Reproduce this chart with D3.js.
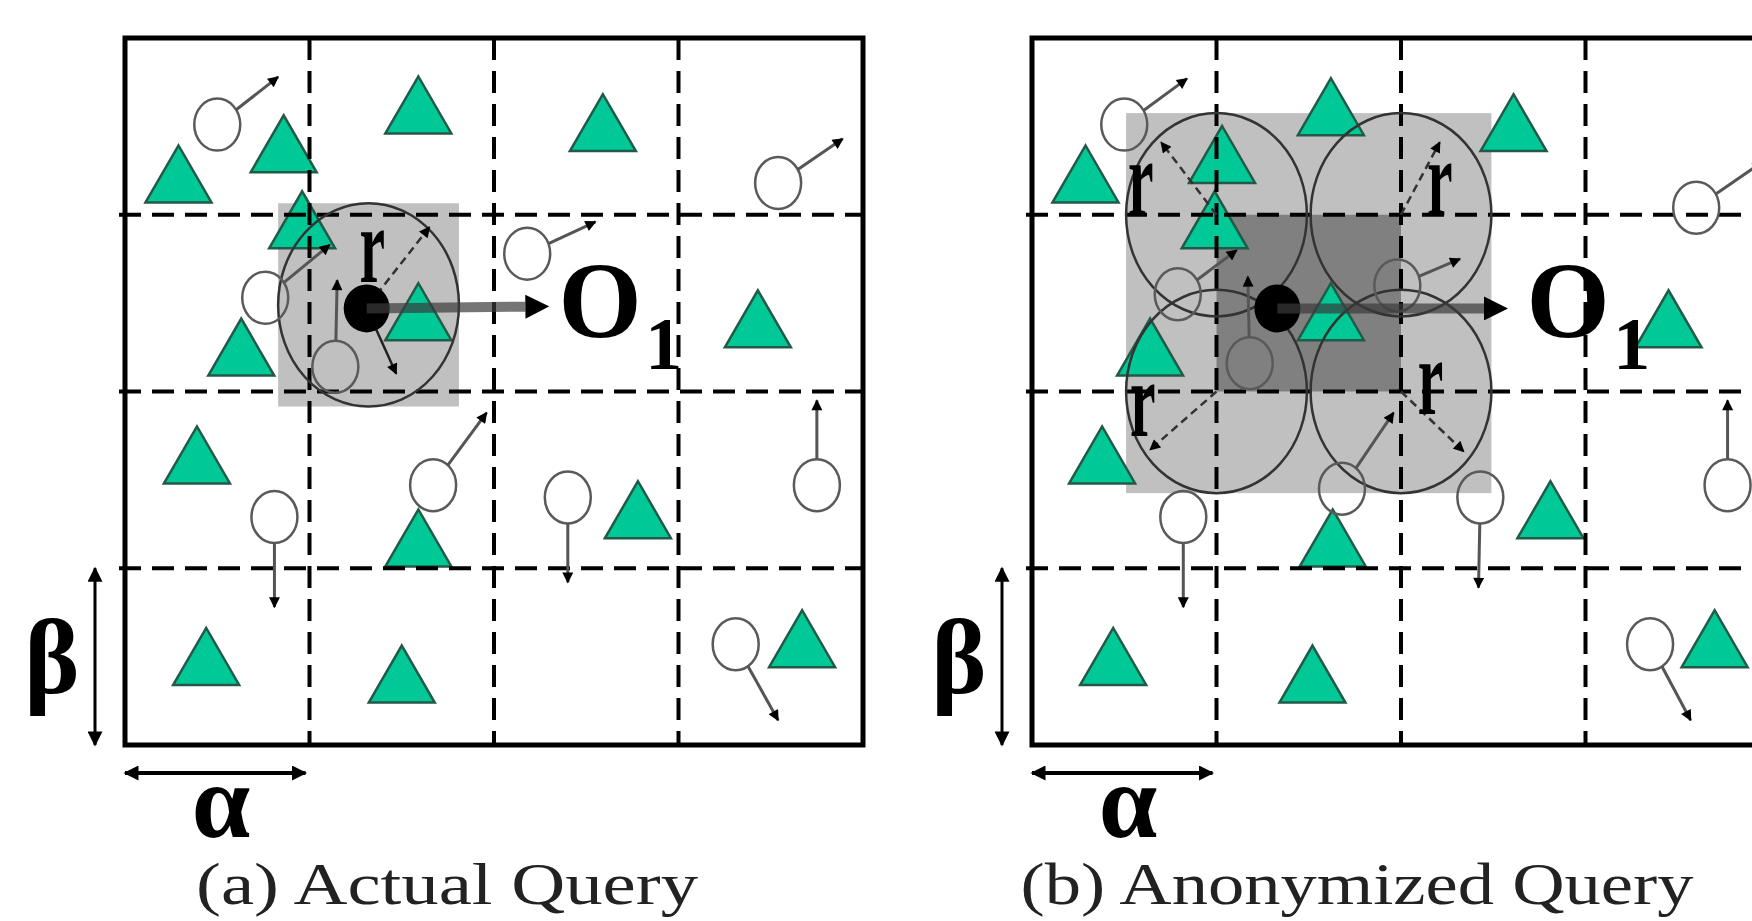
<!DOCTYPE html>
<html>
<head>
<meta charset="utf-8">
<script src="https://cdn.jsdelivr.net/npm/d3@7"></script>
<style>
body { margin: 0; background: #fff; overflow: hidden; }
svg { display: block; }
</style>
</head>
<body>
<div id="figure"></div>
<script>
// 4x4 grid, both panels (cell units)
var cellBreaks = [0, 1, 2, 3, 4];

// service objects (green triangles): [centre x, base y]
var trianglesA = [[1.59, 0.54], [2.59, 0.64], [0.29, 0.93], [0.86, 0.76], [0.96, 1.19], [1.59, 1.71], [0.63, 1.91],
    [3.43, 1.75], [0.39, 2.52], [1.59, 2.99], [2.78, 2.83], [0.44, 3.66], [1.50, 3.76], [3.67, 3.56]];
var trianglesB = [[1.62, 0.55], [2.61, 0.64], [0.29, 0.93], [1.03, 0.82], [0.99, 1.19], [1.62, 1.71], [0.64, 1.91],
    [3.45, 1.75], [0.38, 2.52], [1.63, 2.99], [2.81, 2.83], [0.44, 3.66], [1.52, 3.76], [3.70, 3.56]];

// moving users (open circles): [x, y, arrow end x, arrow end y]
var usersA = [[0.50, 0.49, 0.83, 0.22], [3.54, 0.82, 3.89, 0.57], [2.18, 1.22, 2.55, 1.04], [0.76, 1.47, 1.11, 1.17],
    [1.14, 1.86, 1.15, 1.37], [1.67, 2.53, 1.96, 2.12], [0.81, 2.71, 0.81, 3.22], [2.40, 2.60, 2.40, 3.08],
    [3.75, 2.53, 3.75, 2.05], [3.31, 3.43, 3.54, 3.86]];
var usersB = [[0.50, 0.49, 0.84, 0.23], [3.60, 0.96, 3.96, 0.70], [1.98, 1.40, 2.32, 1.25], [0.79, 1.45, 1.11, 1.20],
    [1.18, 1.84, 1.17, 1.35], [1.68, 2.55, 1.96, 2.12], [0.82, 2.71, 0.82, 3.22], [2.43, 2.60, 2.42, 3.11],
    [3.77, 2.53, 3.77, 2.05], [3.35, 3.43, 3.57, 3.86]];

// query point and range
var queryA = [1.31, 1.53];
var queryB = [1.33, 1.53];
var queryRadius = [0.49, 0.575];
var circleCentresA = [[1.32, 1.51]];
var circleCentresB = [[1, 1], [2, 1], [1, 2], [2, 2]];
var radiusTipsA = [[1.65, 1.07]];
var radiusTipsB = [[0.70, 0.59], [2.21, 0.59], [0.64, 2.33], [2.34, 2.34]];
var rLabelsA = [[1.34, 1.38]];
var rLabelsB = [[0.59, 1.00], [2.21, 1.00], [0.60, 2.25], [2.16, 2.13]];
var extraArrowA = [[1.31, 1.53, 1.47, 1.90]];

// arrow to O1: [tip x, tip y, O x, O baseline, sub x, sub baseline]
var targetA = [2.30, 1.52, 2.35, 1.69, 2.82, 1.87];
var targetB = [2.58, 1.53, 2.68, 1.69, 3.15, 1.87];

var captions = ["(a) Actual Query", "(b) Anonymized Query"];

var w = 1752, h = 921;
var serif = "'Liberation Serif', 'DejaVu Serif', serif";

var svg = d3.select("#figure").append("svg")
    .attr("width", w)
    .attr("height", h);

var defs = svg.append("defs");
function addMarker(id, len, wid, refX) {
    defs.append("marker")
        .attr("id", id)
        .attr("viewBox", "0 0 10 10")
        .attr("refX", refX)
        .attr("refY", 5)
        .attr("markerUnits", "userSpaceOnUse")
        .attr("markerWidth", len)
        .attr("markerHeight", wid)
        .attr("orient", "auto-start-reverse")
        .append("path")
        .attr("d", "M0,0L10,5L0,10Z")
        .attr("fill", "#000");
}
addMarker("head", 13, 11, 9);
addMarker("headBig", 24, 24, 0);
addMarker("headDim", 18, 15, 9);

var y = d3.scaleLinear().domain([0, 4]).range([38, 745]);
var triW = 66, triH = 57;
var userRx = 23, userRy = 26;

function drawPanel(x, d) {
    var g = svg.append("g");

    // cloaking region
    var xs = d.centres.map(function(c) { return c[0]; });
    var ys = d.centres.map(function(c) { return c[1]; });
    g.append("rect")
        .attr("x", x(d3.min(xs) - queryRadius[0]))
        .attr("y", y(d3.min(ys) - queryRadius[1]))
        .attr("width", x(d3.max(xs) + queryRadius[0]) - x(d3.min(xs) - queryRadius[0]))
        .attr("height", y(d3.max(ys) + queryRadius[1]) - y(d3.min(ys) - queryRadius[1]))
        .attr("fill", "#c0c0c0");

    if (d.centres.length > 1) {
        g.append("rect")
            .attr("x", x(d3.min(xs)))
            .attr("y", y(d3.min(ys)))
            .attr("width", x(d3.max(xs)) - x(d3.min(xs)))
            .attr("height", y(d3.max(ys)) - y(d3.min(ys)))
            .attr("fill", "#808080");
    }

    // triangles
    g.selectAll(".tri")
        .data(d.triangles)
        .enter()
        .append("path")
        .attr("class", "tri")
        .attr("d", function(t) {
            var cx = x(t[0]), by = y(t[1]);
            return "M" + (cx - triW / 2) + "," + by + "L" + cx + "," + (by - triH) + "L" + (cx + triW / 2) + "," + by + "Z";
        })
        .attr("fill", "#00c896")
        .attr("stroke", "#235a47")
        .attr("stroke-width", 2.5);

    // dashed grid
    var inner = cellBreaks.slice(1, -1);
    g.selectAll(".vline")
        .data(inner)
        .enter()
        .append("line")
        .attr("x1", function(c) { return x(c); })
        .attr("x2", function(c) { return x(c); })
        .attr("y1", y(0))
        .attr("y2", y(4))
        .attr("stroke", "#000")
        .attr("stroke-width", 4)
        .attr("stroke-dasharray", "22,11");
    g.selectAll(".hline")
        .data(inner)
        .enter()
        .append("line")
        .attr("x1", x(0) - 6)
        .attr("x2", x(4))
        .attr("y1", function(c) { return y(c); })
        .attr("y2", function(c) { return y(c); })
        .attr("stroke", "#000")
        .attr("stroke-width", 4)
        .attr("stroke-dasharray", "22,11");

    // query range circles
    g.selectAll(".range")
        .data(d.centres)
        .enter()
        .append("ellipse")
        .attr("cx", function(c) { return x(c[0]); })
        .attr("cy", function(c) { return y(c[1]); })
        .attr("rx", x(queryRadius[0]) - x(0))
        .attr("ry", y(queryRadius[1]) - y(0))
        .attr("fill", "none")
        .attr("stroke", "#333")
        .attr("stroke-width", 2.5);

    // moving users
    g.selectAll(".user")
        .data(d.users)
        .enter()
        .append("ellipse")
        .attr("cx", function(u) { return x(u[0]); })
        .attr("cy", function(u) { return y(u[1]); })
        .attr("rx", userRx)
        .attr("ry", userRy)
        .attr("fill", "none")
        .attr("stroke", "#5a5a5a")
        .attr("stroke-width", 2.5);

    g.selectAll(".move")
        .data(d.users)
        .enter()
        .append("line")
        .each(function(u) {
            var cx = x(u[0]), cy = y(u[1]), ex = x(u[2]), ey = y(u[3]);
            var dx = ex - cx, dy = ey - cy;
            var t = 1 / Math.sqrt((dx / userRx) * (dx / userRx) + (dy / userRy) * (dy / userRy));
            d3.select(this)
                .attr("x1", cx + dx * t)
                .attr("y1", cy + dy * t)
                .attr("x2", ex)
                .attr("y2", ey);
        })
        .attr("stroke", "#555")
        .attr("stroke-width", 3)
        .attr("marker-end", "url(#head)");

    // radius lines
    g.selectAll(".radius")
        .data(d.radiusTips)
        .enter()
        .append("line")
        .attr("x1", function(r, i) { return x(d.centres[i][0]); })
        .attr("y1", function(r, i) { return y(d.centres[i][1]); })
        .attr("x2", function(r) { return x(r[0]); })
        .attr("y2", function(r) { return y(r[1]); })
        .attr("stroke", "#333")
        .attr("stroke-width", 2.5)
        .attr("stroke-dasharray", "8,5")
        .attr("marker-end", "url(#head)");

    g.selectAll(".rlabel")
        .data(d.rLabels)
        .enter()
        .append("text")
        .attr("transform", function(r) { return "translate(" + x(r[0]) + "," + y(r[1]) + ") scale(0.8,1.5)"; })
        .attr("text-anchor", "middle")
        .attr("font-family", serif)
        .attr("font-weight", "bold")
        .attr("font-size", 72)
        .text("r");

    // extra arrow from query point
    g.selectAll(".extra")
        .data(d.extra)
        .enter()
        .append("line")
        .attr("x1", function(a) { return x(a[0]); })
        .attr("y1", function(a) { return y(a[1]); })
        .attr("x2", function(a) { return x(a[2]); })
        .attr("y2", function(a) { return y(a[3]); })
        .attr("stroke", "#222")
        .attr("stroke-width", 2.5)
        .attr("marker-end", "url(#head)");

    // query point
    g.append("ellipse")
        .attr("cx", x(d.query[0]))
        .attr("cy", y(d.query[1]))
        .attr("rx", 23)
        .attr("ry", 24)
        .attr("fill", "#000");

    // arrow to O1
    g.append("line")
        .attr("x1", x(d.query[0]))
        .attr("y1", y(d.query[1]))
        .attr("x2", x(d.target[0]) - 24)
        .attr("y2", y(d.target[1]))
        .attr("stroke", "#3a3a3a")
        .attr("stroke-opacity", 0.7)
        .attr("stroke-width", 10)
        .attr("marker-end", "url(#headBig)");

    g.append("text")
        .attr("x", x(d.target[2]))
        .attr("y", y(d.target[3]))
        .attr("font-family", serif)
        .attr("font-weight", "bold")
        .attr("font-size", 107)
        .text("O");
    g.append("text")
        .attr("x", x(d.target[4]))
        .attr("y", y(d.target[5]))
        .attr("font-family", serif)
        .attr("font-weight", "bold")
        .attr("font-size", 74)
        .text("1");

    // outer border
    g.append("rect")
        .attr("x", x(0))
        .attr("y", y(0))
        .attr("width", x(4) - x(0))
        .attr("height", y(4) - y(0))
        .attr("fill", "none")
        .attr("stroke", "#000")
        .attr("stroke-width", 5);

    // cell size arrows
    g.append("line")
        .attr("x1", x(0) - 30)
        .attr("x2", x(0) - 30)
        .attr("y1", y(3))
        .attr("y2", y(4))
        .attr("stroke", "#000")
        .attr("stroke-width", 3)
        .attr("marker-start", "url(#headDim)")
        .attr("marker-end", "url(#headDim)");
    g.append("text")
        .attr("x", x(0) - 73)
        .attr("y", 693)
        .attr("text-anchor", "middle")
        .attr("font-family", serif)
        .attr("font-weight", "bold")
        .attr("font-size", 105)
        .text("β");

    g.append("line")
        .attr("x1", x(0))
        .attr("x2", x(1) - 4)
        .attr("y1", 773)
        .attr("y2", 773)
        .attr("stroke", "#000")
        .attr("stroke-width", 4)
        .attr("marker-start", "url(#headDim)")
        .attr("marker-end", "url(#headDim)");
    g.append("text")
        .attr("x", x(0.52))
        .attr("y", 837)
        .attr("text-anchor", "middle")
        .attr("font-family", serif)
        .attr("font-weight", "bold")
        .attr("font-size", 105)
        .text("α");

    g.append("text")
        .attr("x", d.captionX)
        .attr("y", 904)
        .attr("text-anchor", "middle")
        .attr("font-family", serif)
        .attr("font-size", 60)
        .attr("fill", "#222")
        .attr("textLength", d.captionW)
        .attr("lengthAdjust", "spacingAndGlyphs")
        .text(d.caption);
}

var xA = d3.scaleLinear().domain([0, 4]).range([125, 863]);
var xB = d3.scaleLinear().domain([0, 4]).range([1032, 1770]);

drawPanel(xA, {
    triangles: trianglesA, users: usersA, query: queryA, centres: circleCentresA,
    radiusTips: radiusTipsA, rLabels: rLabelsA, extra: extraArrowA, target: targetA,
    caption: captions[0], captionX: 447, captionW: 502
});
drawPanel(xB, {
    triangles: trianglesB, users: usersB, query: queryB, centres: circleCentresB,
    radiusTips: radiusTipsB, rLabels: rLabelsB, extra: [], target: targetB,
    caption: captions[1], captionX: 1357, captionW: 673
});
</script>
</body>
</html>
